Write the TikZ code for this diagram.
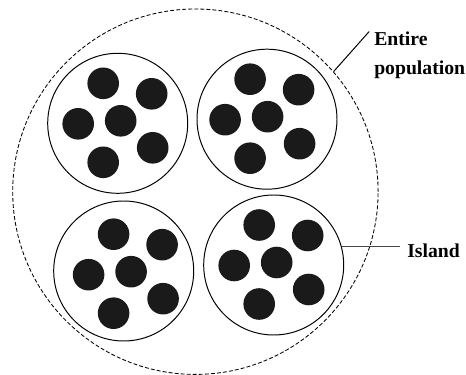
\documentclass[tikz,border=0pt]{standalone}
\usepackage{tikz}
\usepackage{fontspec}
\setmainfont{Liberation Serif}
\usetikzlibrary{calc}
\definecolor{dotblack}{RGB}{26,26,26}
\definecolor{leadgray}{RGB}{70,70,70}
\begin{document}
\begin{tikzpicture}[scale=1,
  island/.style={draw, circle, line width=0.7pt, minimum size=3.5cm, inner sep=0pt},
  indiv/.style={fill=dotblack},
  lbl/.style={font=\fontsize{14}{20.4}\selectfont\bfseries, inner sep=0pt, align=left}]
\useasboundingbox (0,0) rectangle (11.65,9.375);
\node [draw, circle, dashed, dash pattern=on 2.8pt off 1.5pt, line width=0.6pt, minimum size=9.135cm, inner sep=0pt] (pop) at (4.885,4.5825) {};
\foreach \nm/\cx/\cy/\dx/\dy in {isTL/2.9425/6.2925/0/0, isTR/6.675/6.395/-0.06/0, isBL/3.0925/2.6/0.11/-0.08, isBR/6.8425/2.75/0/0}
{
  \node [island] (\nm) at (\cx,\cy) {};
  \foreach \px/\py in {-0.3625/1.0, 0.85/0.7375, -0.9875/-0.0125, 0.075/0.0625, 0.875/-0.6125, -0.3625/-0.975}
    \fill [indiv] (\cx+\dx+\px,\cy+\dy+\py) circle (0.395);
}
\node [lbl, anchor=north west] (ent) at (9.35,8.5875) {Entire\\population};
\node [lbl, anchor=base west] (isl) at (10.175,2.9325) {Island};
\draw [line width=0.7pt] (pop.41.5) -- ([xshift=-0.12cm]ent.north west);
\draw [line width=0.7pt, leadgray] (isBR.15) -- ($(isBR.15 -| isl.west)+(-0.175,0)$);
\end{tikzpicture}
\end{document}
